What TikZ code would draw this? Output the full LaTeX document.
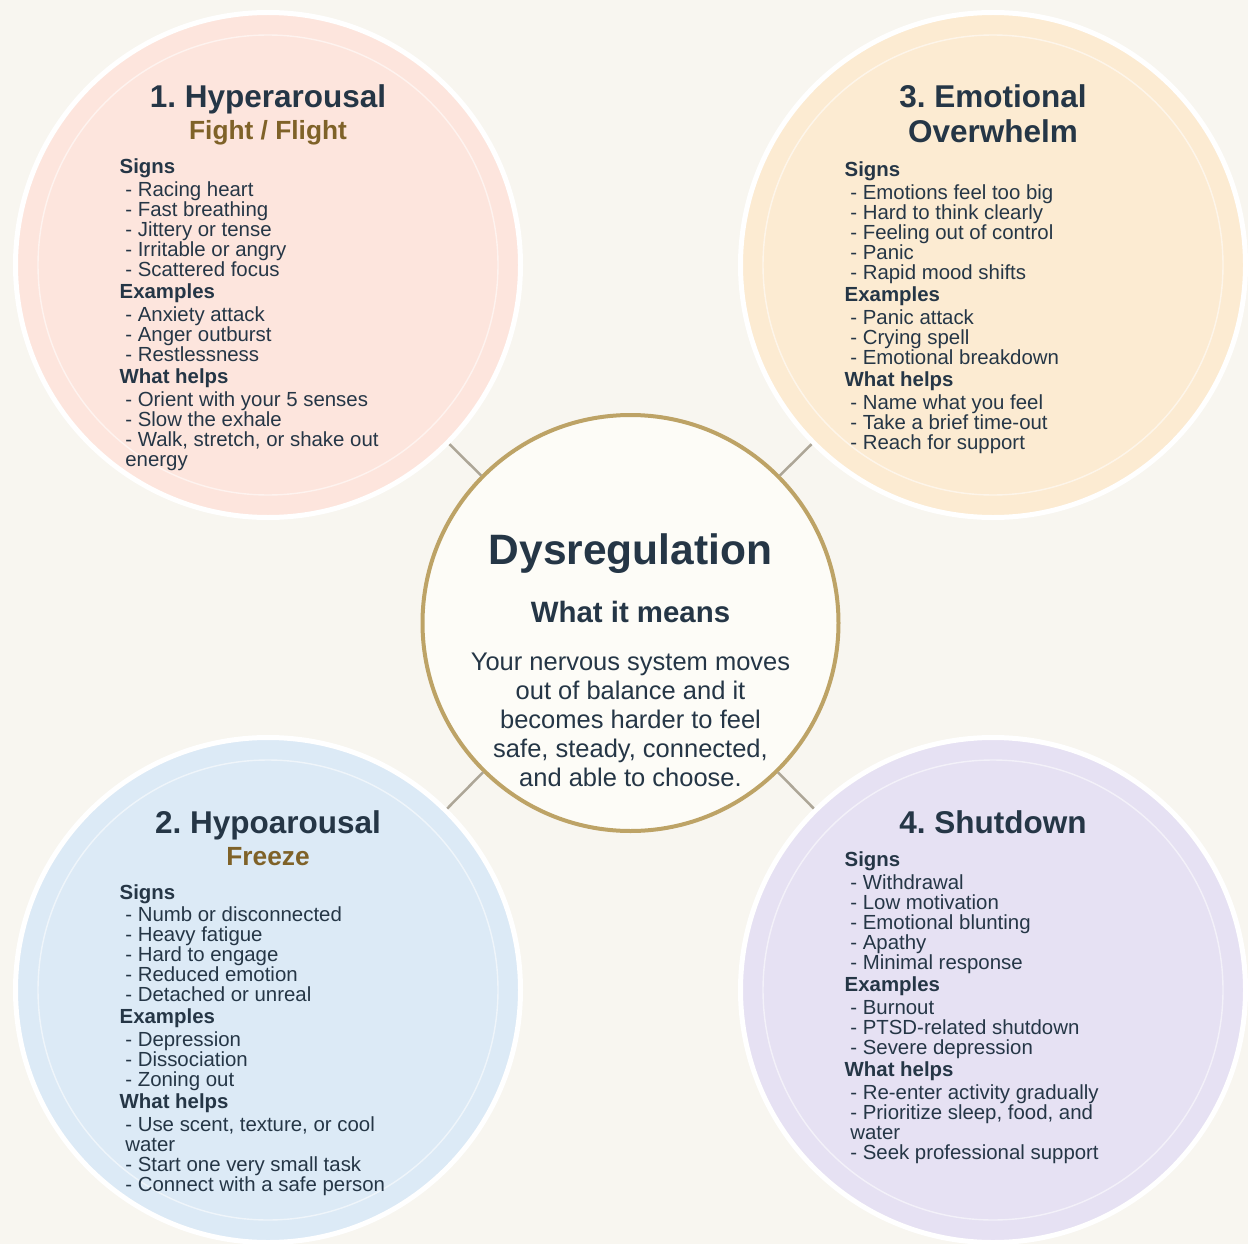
\documentclass[tikz,border=0pt]{standalone}
\usepackage{fontspec}
\setmainfont{Liberation Sans}
\usepackage{xcolor}
\usetikzlibrary{positioning,calc}
\frenchspacing

\definecolor{bgcream}{HTML}{F8F6F0}
\definecolor{inkblue}{HTML}{253646}
\definecolor{goldtxt}{HTML}{7F6228}
\definecolor{goldring}{HTML}{BDA366}
\definecolor{corefill}{HTML}{FDFCF7}
\definecolor{linkgray}{HTML}{ADA697}
\definecolor{hyperfill}{HTML}{FDE5DD}
\definecolor{emofill}{HTML}{FCEBD2}
\definecolor{hypofill}{HTML}{DCEAF6}
\definecolor{shutfill}{HTML}{E6E1F3}

% stacked lines, the node's base is the first baseline
\newcommand{\leftlines}[1]{\begin{minipage}[t]{330pt}\raggedright#1\end{minipage}}
\newcommand{\midlines}[1]{\begin{minipage}[t]{400pt}\centering#1\end{minipage}}

\tikzset{
  zone/.style={circle, draw=white, line width=5pt, minimum size=505pt, inner sep=0pt},
  core/.style={circle, draw=goldring, fill=corefill, line width=4pt, minimum size=416pt, inner sep=0pt},
  ring/.style={draw=white, draw opacity=0.55, line width=1.4pt},
  link/.style={draw=linkgray, line width=2.5pt},
  zonetitle/.style={anchor=base, text=inkblue, font=\fontsize{31.5}{34.5}\selectfont\bfseries, inner sep=0pt},
  zonesub/.style={anchor=base, text=goldtxt, font=\fontsize{26.3}{28}\selectfont\bfseries, inner sep=0pt},
  zonelist/.style={anchor=base west, text=inkblue, font=\fontsize{20.4}{19.95}\selectfont, inner sep=0pt},
}

\begin{document}
\begin{tikzpicture}[x=1pt, y=-1pt]
    % Background
    \fill[bgcream] (0,0) rectangle (1248,1244);
    \useasboundingbox (0,0) rectangle (1248,1244);

    % Centre circle
    \node[core] (core) at (630.5,623) {};

    % Four state circles
    \node[zone, fill=hyperfill] (hyper) at (268,265) {};
    \node[zone, fill=emofill] (emo) at (993,265) {};
    \node[zone, fill=hypofill] (hypo) at (268,990) {};
    \node[zone, fill=shutfill] (shut) at (993,990) {};

    \foreach \z in {hyper,emo,hypo,shut}
    {
        \draw[ring] (\z.center) circle[radius=230pt];
        \draw[link] (core) -- (\z);
    }

    % Centre text
    \node[anchor=base, text=inkblue, font=\fontsize{42.5}{46}\selectfont\bfseries, inner sep=0pt] (coretitle) at ($(core)+(0,-59)$) {Dysregulation};
    \node[anchor=base, text=inkblue, font=\fontsize{29.4}{32}\selectfont\bfseries, inner sep=0pt] (coresub) at ($(core)+(0,-0.3)$) {What it means};
    \node[anchor=base, text=inkblue, font=\fontsize{25.5}{29}\selectfont, inner sep=0pt] (coretext) at ($(core)+(0,47.7)$)
        {\midlines{Your nervous system moves\\out of balance and it\\becomes harder to feel\\safe, steady, connected,\\and able to choose.}};

    % 1. Hyperarousal
    \node[zonetitle] (hypertitle) at ($(hyper)+(0,-157)$) {1. Hyperarousal};
    \node[zonesub] (hypersub) at ($(hyper)+(0,-125.5)$) {Fight / Flight};
    \node[zonelist] (hyperlist) at ($(hyper)+(-148.5,-91)$)
        {\leftlines{\textbf{Signs}\\[2.6pt]
         \ - Racing heart\\
         \ - Fast breathing\\
         \ - Jittery or tense\\
         \ - Irritable or angry\\
         \ - Scattered focus\\[2.6pt]
         \textbf{Examples}\\[2.6pt]
         \ - Anxiety attack\\
         \ - Anger outburst\\
         \ - Restlessness\\[2.6pt]
         \textbf{What helps}\\[2.6pt]
         \ - Orient with your 5 senses\\
         \ - Slow the exhale\\
         \ - Walk, stretch, or shake out\\
         \ energy}};

    % 3. Emotional Overwhelm
    \node[zonetitle] (emotitle) at ($(emo)+(0,-157)$) {\midlines{3. Emotional\\Overwhelm}};
    \node[zonelist] (emolist) at ($(emo)+(-148.5,-88)$)
        {\leftlines{\textbf{Signs}\\[2.6pt]
         \ - Emotions feel too big\\
         \ - Hard to think clearly\\
         \ - Feeling out of control\\
         \ - Panic\\
         \ - Rapid mood shifts\\[2.6pt]
         \textbf{Examples}\\[2.6pt]
         \ - Panic attack\\
         \ - Crying spell\\
         \ - Emotional breakdown\\[2.6pt]
         \textbf{What helps}\\[2.6pt]
         \ - Name what you feel\\
         \ - Take a brief time-out\\
         \ - Reach for support}};

    % 2. Hypoarousal
    \node[zonetitle] (hypotitle) at ($(hypo)+(0,-157)$) {2. Hypoarousal};
    \node[zonesub] (hyposub) at ($(hypo)+(0,-124.5)$) {Freeze};
    \node[zonelist] (hypolist) at ($(hypo)+(-148.5,-91)$)
        {\leftlines{\textbf{Signs}\\[2.6pt]
         \ - Numb or disconnected\\
         \ - Heavy fatigue\\
         \ - Hard to engage\\
         \ - Reduced emotion\\
         \ - Detached or unreal\\[2.6pt]
         \textbf{Examples}\\[2.6pt]
         \ - Depression\\
         \ - Dissociation\\
         \ - Zoning out\\[2.6pt]
         \textbf{What helps}\\[2.6pt]
         \ - Use scent, texture, or cool\\
         \ water\\
         \ - Start one very small task\\
         \ - Connect with a safe person}};

    % 4. Shutdown
    \node[zonetitle] (shuttitle) at ($(shut)+(0,-157)$) {4. Shutdown};
    \node[zonelist] (shutlist) at ($(shut)+(-148.5,-123.3)$)
        {\leftlines{\textbf{Signs}\\[2.6pt]
         \ - Withdrawal\\
         \ - Low motivation\\
         \ - Emotional blunting\\
         \ - Apathy\\
         \ - Minimal response\\[2.6pt]
         \textbf{Examples}\\[2.6pt]
         \ - Burnout\\
         \ - PTSD-related shutdown\\
         \ - Severe depression\\[2.6pt]
         \textbf{What helps}\\[2.6pt]
         \ - Re-enter activity gradually\\
         \ - Prioritize sleep, food, and\\
         \ water\\
         \ - Seek professional support}};
\end{tikzpicture}
\end{document}
